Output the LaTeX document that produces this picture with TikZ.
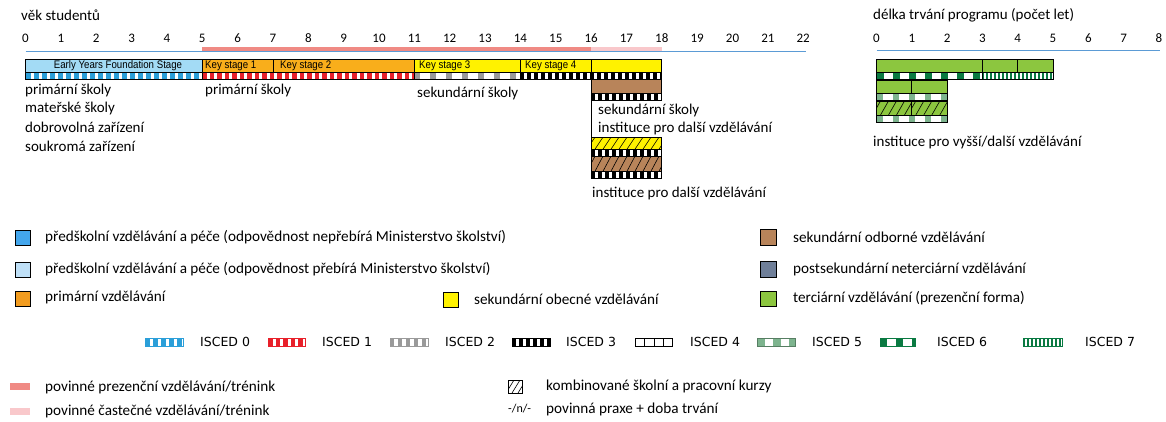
\documentclass[tikz,border=0pt]{standalone}
\usepackage{fontspec}
\setmainfont{Carlito}
\newfontfamily\ksfont[FakeStretch=0.88]{Liberation Sans}
\newfontfamily\iscfont{DejaVu Sans}

\definecolor{axisblue}{HTML}{5B9BD5}
\definecolor{compred}{HTML}{F08A84}
\definecolor{comppink}{HTML}{F9C8CB}
\definecolor{eyfs}{HTML}{A3DBF5}
\definecolor{ksorange}{HTML}{F9AE1B}
\definecolor{secyellow}{HTML}{FFF200}
\definecolor{vocbrown}{HTML}{B8845A}
\definecolor{postgray}{HTML}{6F7F99}
\definecolor{tergreen}{HTML}{8CC63F}
\definecolor{ecblue}{HTML}{43A6EC}
\definecolor{eclight}{HTML}{BFE0F7}
\definecolor{legorange}{HTML}{F29C1F}
\definecolor{iscA}{HTML}{2B9FD9}
\definecolor{iscB}{HTML}{E8202A}
\definecolor{iscC}{HTML}{9A9A9A}
\definecolor{iscE}{HTML}{7DB48E}
\definecolor{iscF}{HTML}{0A7A42}

% striped ISCED strip: x0, x1, ytop, ybot, colour, period, block width, border colour
\newcommand\scedstrip[8]{%
  \begin{scope}
    \clip (#1,#3) rectangle (#2,#4);
    \fill[white] (#1,#3) rectangle (#2,#4);
    \pgfmathsetmacro\scnext{#1+#6}%
    \foreach \s in {#1,\scnext,...,#2}{\fill[#5] (\s,#3) rectangle ({\s+#7},#4);}
  \end{scope}
  \draw[#8,line width=0.8pt] (#1,#3) rectangle (#2,#4);}

% hatched bar for combined school and work courses: x0, x1, ytop, ybot, fill, spacing
\newcommand\hatchbar[6]{%
  \fill[#5] (#1,#3) rectangle (#2,#4);
  \begin{scope}
    \clip (#1,#3) rectangle (#2,#4);
    \pgfmathsetmacro\hfirst{#1-20}%
    \pgfmathsetmacro\hsecond{#1-20+#6}%
    \foreach \s in {\hfirst,\hsecond,...,#2}{\draw[black,line width=0.6pt] (\s,#4) -- ++(8,{#3-#4});}
  \end{scope}
  \draw[bar] (#1,#3) rectangle (#2,#4);}

\begin{document}
\begin{tikzpicture}[x=1pt,y=-1pt,
  bar/.style={draw=black,line width=0.8pt},
  axnum/.style={font=\fontsize{13}{15}\selectfont,inner sep=0pt},
  title/.style={font=\fontsize{15}{17}\selectfont,anchor=west,inner sep=0pt},
  place/.style={font=\fontsize{15}{17}\selectfont,anchor=west,inner sep=0pt},
  kstext/.style={font=\ksfont\fontsize{11}{13}\selectfont,anchor=west,inner sep=0pt},
  legtext/.style={font=\fontsize{15.2}{17}\selectfont,anchor=west,inner sep=0pt},
  isctext/.style={font=\iscfont\fontsize{12.5}{14}\selectfont,anchor=west,inner sep=0pt},
  legbox/.style={draw=black,line width=0.8pt}]
\useasboundingbox (0,0) rectangle (1166,421);

% ---------- age axis ----------
\node[title] (agetitle) at (21,15) {věk studentů};
\foreach \a in {0,...,22}
  \node[axnum] (age\a) at ({25.5+35.35*\a},38) {\a};
\draw[axisblue,line width=0.9pt] (25.5,51) -- (806,51);
\fill[compred] (202.25,47) rectangle (591.1,50.5);
\fill[comppink] (591.1,47) rectangle (661.8,50.5);

% ---------- main bars ----------
\fill[eyfs] (25.5,59) rectangle (202.25,72);
\fill[ksorange] (202.25,59) rectangle (414.35,72);
\fill[secyellow] (414.35,59) rectangle (661.8,72);
\draw[bar] (25.5,59) rectangle (202.25,72);
\draw[bar] (202.25,59) rectangle (272.95,72);
\draw[bar] (272.95,59) rectangle (414.35,72);
\draw[bar] (414.35,59) rectangle (520.4,72);
\draw[bar] (520.4,59) rectangle (591.1,72);
\draw[bar] (591.1,59) rectangle (661.8,72);
\node[kstext,anchor=center] (eyfsl) at (118,65.5) {Early Years Foundation Stage};
\node[kstext] (ks1) at (205,65.5) {Key stage 1};
\node[kstext] (ks2) at (280,65.5) {Key stage 2};
\node[kstext] (ks3) at (419,65.5) {Key stage 3};
\node[kstext] (ks4) at (525,65.5) {Key stage 4};

\scedstrip{25.5}{202.25}{72}{79}{iscA}{8}{5.2}{black}
\scedstrip{202.25}{414.35}{72}{79}{iscB}{7.5}{4.5}{black}
\scedstrip{414.35}{520.4}{72}{79}{iscC}{16}{6}{black}
\scedstrip{520.4}{661.8}{72}{79}{black}{7}{4}{black}

% vocational upper secondary
\fill[vocbrown] (591.1,79) rectangle (661.8,93);
\draw[bar] (591.1,79) rectangle (661.8,93);
\scedstrip{591.1}{661.8}{93}{100}{black}{7}{4}{black}
\draw[bar] (591.1,100) -- (591.1,137);

% combined school and work courses
\hatchbar{591.1}{661.8}{137}{149}{secyellow}{8}
\scedstrip{591.1}{661.8}{149}{156}{black}{7}{4}{black}
\hatchbar{591.1}{661.8}{156}{171}{vocbrown}{8}
\scedstrip{591.1}{661.8}{171}{178}{black}{7}{4}{black}

% institution labels
\node[place] (ps1) at (25,90) {primární školy};
\node[place] (ms) at (25,108) {mateřské školy};
\node[place] (dz) at (25,127) {dobrovolná zařízení};
\node[place] (sz) at (25,146) {soukromá zařízení};
\node[place] (ps2) at (205,90) {primární školy};
\node[place] (ss1) at (417,93) {sekundární školy};
\node[place] (ss2) at (598,110) {sekundární školy};
\node[place] (ipd1) at (598,128) {instituce pro další vzdělávání};
\node[place] (ipd2) at (592,193) {instituce pro další vzdělávání};

% ---------- programme duration axis ----------
\node[title] (durtitle) at (873,15) {délka trvání programu (počet let)};
\foreach \d in {0,...,8}
  \node[axnum] (dur\d) at ({876.5+35.3*\d},38) {\d};
\draw[axisblue,line width=0.9pt] (876.5,50.5) -- (1160,50.5);

\fill[tergreen] (876.5,59) rectangle (1053,72);
\draw[bar] (876.5,59) rectangle (982.4,72);
\draw[bar] (982.4,59) rectangle (1017.7,72);
\draw[bar] (1017.7,59) rectangle (1053,72);
\scedstrip{876.5}{982.4}{72}{79}{iscF}{16}{7}{black}
\scedstrip{982.4}{1053}{72}{79}{iscF}{4}{2}{black}

\fill[tergreen] (876.5,80) rectangle (947.1,93);
\draw[bar] (876.5,80) rectangle (911.8,93);
\draw[bar] (911.8,80) rectangle (947.1,93);
\scedstrip{876.5}{947.1}{93}{100}{iscE}{16}{6}{black}

\hatchbar{876.5}{911.8}{101}{115}{tergreen}{8}
\hatchbar{911.8}{947.1}{101}{115}{tergreen}{8}
\scedstrip{876.5}{947.1}{115}{122}{iscE}{16}{6}{black}

\node[place] (ivd) at (873,142) {instituce pro vyšší/další vzdělávání};

% ---------- colour legend ----------
\filldraw[legbox,fill=ecblue] (15,230) rectangle (30,245);
\node[legtext] (l1) at (45,237.5) {předškolní vzdělávání a péče (odpovědnost nepřebírá Ministerstvo školství)};
\filldraw[legbox,fill=eclight] (15,262) rectangle (30,277);
\node[legtext] (l2) at (45,269.5) {předškolní vzdělávání a péče (odpovědnost přebírá Ministerstvo školství)};
\filldraw[legbox,fill=legorange] (15,291) rectangle (30,306);
\node[legtext] (l3) at (45,297.5) {primární vzdělávání};
\filldraw[legbox,fill=secyellow] (443,292) rectangle (458,307);
\node[legtext] (l4) at (474,299) {sekundární obecné vzdělávání};
\filldraw[legbox,fill=vocbrown] (760,229.5) rectangle (776,245);
\node[legtext] (l5) at (793,237) {sekundární odborné vzdělávání};
\filldraw[legbox,fill=postgray] (760,261.5) rectangle (776,277);
\node[legtext] (l6) at (793,269) {postsekundární neterciární vzdělávání};
\filldraw[legbox,fill=tergreen] (760,291) rectangle (776,306);
\node[legtext] (l7) at (793,298) {terciární vzdělávání (prezenční forma)};

% ---------- ISCED legend ----------
\scedstrip{145}{183}{338}{346}{iscA}{8}{5.2}{iscA}
\node[isctext] (i0) at (200,342) {ISCED 0};
\scedstrip{268}{305}{338}{346}{iscB}{7.5}{4.5}{iscB}
\node[isctext] (i1) at (322,342) {ISCED 1};
\scedstrip{390}{428}{338}{346}{iscC}{8}{4}{iscC}
\node[isctext] (i2) at (445,342) {ISCED 2};
\scedstrip{512}{550}{338}{346}{black}{7}{4}{black}
\node[isctext] (i3) at (566,342) {ISCED 3};
\scedstrip{635}{672}{338}{346}{black}{9.25}{0.9}{black}
\node[isctext] (i4) at (690,342) {ISCED 4};
\scedstrip{757}{795}{338}{346}{iscE}{16}{8}{iscE!70!black}
\node[isctext] (i5) at (812,342) {ISCED 5};
\scedstrip{880}{915}{338}{346}{iscF}{16}{7}{iscF}
\node[isctext] (i6) at (937,342) {ISCED 6};
\scedstrip{1023}{1062}{338}{346}{iscF}{4}{2}{iscF}
\node[isctext] (i7) at (1085,342) {ISCED 7};

% ---------- compulsory education legend ----------
\fill[compred] (10,383) rectangle (30,390);
\node[legtext] (c1) at (45,387) {povinné prezenční vzdělávání/trénink};
\fill[comppink] (10,408) rectangle (30,415);
\node[legtext] (c2) at (45,411) {povinné častečné vzdělávání/trénink};
\hatchbar{508}{522}{380}{393}{white}{6}
\node[legtext] (c3) at (546,386) {kombinované školní a pracovní kurzy};
\node[legtext,font=\fontsize{12}{14}\selectfont] (c4) at (508,409) {-/n/-};
\node[legtext] (c5) at (546,409) {povinná praxe + doba trvání};
\end{tikzpicture}
\end{document}
